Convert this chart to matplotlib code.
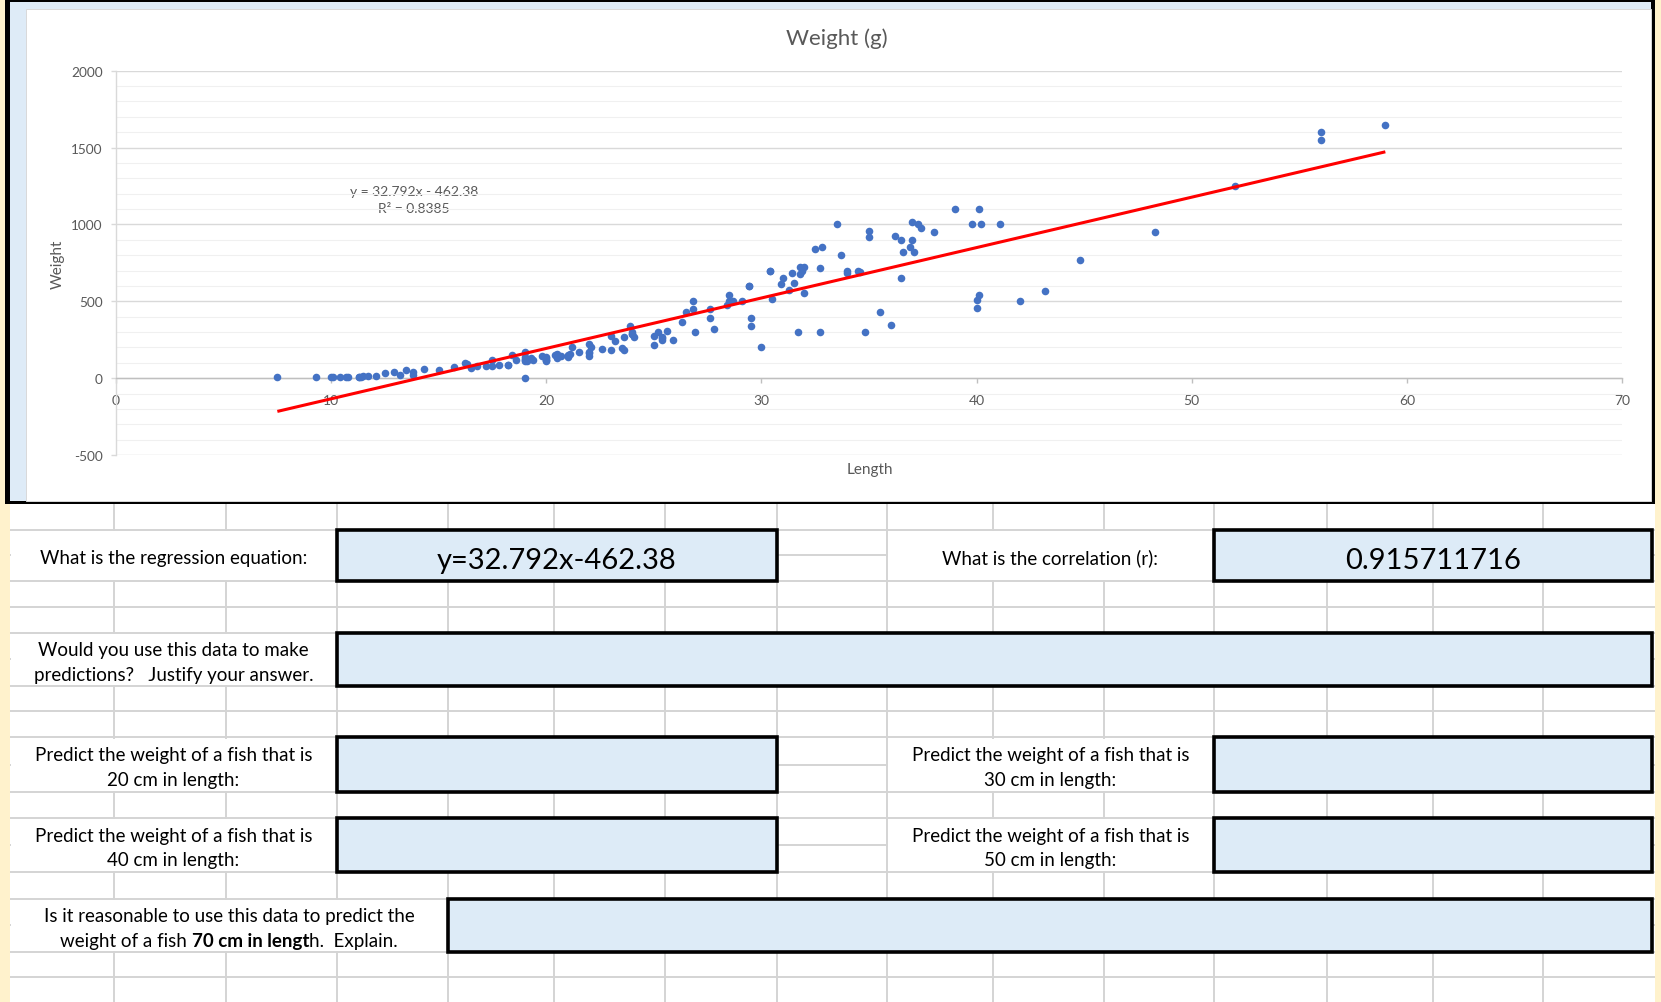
import numpy as np
import matplotlib
matplotlib.use("Agg")
import matplotlib.pyplot as plt
from matplotlib.patches import Rectangle
from matplotlib.ticker import MultipleLocator

plt.rcParams['font.family'] = ['Lato', 'DejaVu Sans']
plt.rcParams['axes.unicode_minus'] = False

# ---------------- data (fish length in cm, weight in g) ----------------
length = [
    # Bream
    23.2, 24, 23.9, 26.3, 26.5, 26.8, 26.8, 27.6, 27.6, 28.5, 28.4, 28.7, 29.1, 29.5, 29.4,
    29.4, 30.4, 30.4, 30.9, 31, 31.3, 31.4, 31.5, 31.8, 31.9, 31.8, 32, 32.7, 32.8, 33.5,
    35, 35, 36.2, 37.4, 38,
    # Roach
    12.9, 16.5, 17.5, 18.2, 18.6, 19, 19.1, 19.4, 20.4, 20.5, 20.5, 21, 21.1, 22, 22,
    22.1, 23.6, 24, 25, 29.5,
    # Whitefish
    23.6, 24.1, 25.6, 28.5, 33.7, 37.3,
    # Parkki
    13.5, 14.3, 16.3, 17.5, 18.4, 19, 19, 19.8, 21.2, 23, 24,
    # Perch
    7.5, 12.5, 13.8, 15, 15.7, 16.2, 16.8, 17.2, 17.8, 18.2, 19, 19, 19, 19.3, 20,
    20, 20, 20, 20, 20.5, 20.5, 20.7, 21, 21.5, 22, 22, 22.6, 23, 23.5, 25,
    25.2, 25.4, 25.4, 25.4, 25.9, 26.9, 27.8, 30.5, 32, 32.5, 34, 34, 34.5, 34.6, 36.5,
    36.5, 36.6, 36.9, 37, 37, 37.1, 39, 39.8, 40.1, 40.2, 41.1,
    # Pike
    30, 31.7, 32.7, 34.8, 35.5, 36, 40, 40, 40.1, 42, 43.2, 44.8, 48.3, 52, 56, 56, 59,
    # Smelt
    9.3, 10, 10.1, 10.4, 10.7, 10.8, 11.3, 11.3, 11.4, 11.5, 11.7, 12.1, 13.2, 13.8,
]
weight = [
    # Bream
    242, 290, 340, 363, 430, 450, 500, 390, 450, 500, 475, 500, 500, 340, 600,
    600, 700, 700, 610, 650, 575, 685, 620, 680, 700, 725, 720, 714, 850, 1000,
    920, 955, 925, 975, 950,
    # Roach
    40, 69, 78, 87, 120, 0, 110, 120, 150, 145, 160, 140, 160, 169, 161,
    200, 180, 290, 272, 390,
    # Whitefish
    270, 270, 306, 540, 800, 1000,
    # Parkki
    55, 60, 90, 120, 150, 140, 170, 145, 200, 273, 300,
    # Perch
    5.9, 32, 40, 51.5, 70, 100, 78, 80, 85, 85, 110, 115, 125, 130, 120,
    120, 130, 135, 110, 130, 150, 145, 150, 170, 225, 145, 188, 180, 197, 218,
    300, 260, 265, 250, 250, 300, 320, 514, 556, 840, 685, 700, 700, 690, 900,
    650, 820, 850, 900, 1015, 820, 1100, 1000, 1100, 1000, 1000,
    # Pike
    200, 300, 300, 300, 430, 345, 456, 510, 540, 500, 567, 770, 950, 1250, 1600, 1550, 1650,
    # Smelt
    6.7, 7.5, 7, 9.7, 9.8, 8.7, 10, 9.9, 9.8, 12.2, 13.4, 12.2, 19.7, 19.9,
]

x_ticks = [0, 10, 20, 30, 40, 50, 60, 70]
y_ticks = [-500, 0, 500, 1000, 1500, 2000]
chart_title = "Weight (g)"
x_label = "Length"
y_label = "Weight"
eq_label = "y = 32.792x - 462.38"
r2_label = "R\u00b2 = 0.8385"
answer_equation = "y=32.792x-462.38"
answer_correlation = "0.915711716"

q_equation = ["What is the regression equation:"]
q_correlation = ["What is the correlation (r):"]
q_use = ["Would you use this data to make", "predictions?   Justify your answer."]
q_20 = ["Predict the weight of a fish that is", "20 cm in length:"]
q_30 = ["Predict the weight of a fish that is", "30 cm in length:"]
q_40 = ["Predict the weight of a fish that is", "40 cm in length:"]
q_50 = ["Predict the weight of a fish that is", "50 cm in length:"]
q_70_line1 = "Is it reasonable to use this data to predict the"
q_70_line2 = [("weight of a fish", "normal"), ("70 cm in lengt", "bold"), ("h.  Explain.", "normal")]

# ---------------- layout (pixels) ----------------
W, H = 1661, 1003
PX0, PX1 = 116, 1622      # x = 0 .. 70
PY_TOP, PY_BOT = 71.7, 456  # y = 2000 .. -500

row_lines = [530.7, 556, 581.7, 607.7, 634, 660, 686.7, 711.7, 738.3, 765.7, 792.7,
             819, 846, 873.3, 900, 926, 952.7, 978.3]
col_lines = [114, 226, 337, 448, 554, 665, 777, 887, 993, 1104, 1214, 1327, 1433, 1543]

fig = plt.figure(figsize=(W / 100, H / 100), dpi=100)
fig.patch.set_facecolor('white')
bg = fig.add_axes([0, 0, 1, 1], zorder=0)
bg.set_xlim(0, W)
bg.set_ylim(H, 0)
bg.axis('off')


def rect(x0, y0, x1, y1, **kw):
    bg.add_patch(Rectangle((x0, y0), x1 - x0, y1 - y0, **kw))


GRID = '#d4d4d4'
BOXFILL = '#ddebf7'

# spreadsheet grid
bg.hlines(row_lines, 10, W - 6, colors=GRID, lw=1.4, zorder=1)
bg.vlines(col_lines, 505, H, colors=GRID, lw=1.4, zorder=1)

label_cells = [
    (10, 337, 530.7, 581.7, q_equation),
    (887, 1214, 530.7, 581.7, q_correlation),
    (10, 337, 634, 686.7, q_use),
    (10, 337, 738.3, 792.7, q_20),
    (887, 1214, 738.3, 792.7, q_30),
    (10, 337, 819, 873.3, q_40),
    (887, 1214, 819, 873.3, q_50),
    (10, 448, 900, 952.7, None),
]
boxes = [
    (337, 777, 530.7, 581.7, answer_equation),
    (1214, 1652, 530.7, 581.7, answer_correlation),
    (337, 1652, 634, 686.7, None),
    (337, 777, 738.3, 792.7, None),
    (1214, 1652, 738.3, 792.7, None),
    (337, 777, 819, 873.3, None),
    (1214, 1652, 819, 873.3, None),
    (448, 1652, 900, 952.7, None),
]

LABEL_SIZE = 13.5
for x0, x1, y0, y1, lines in label_cells:
    rect(x0 + 1.2, y0 + 1.2, x1 - 1.2, y1 - 1.2, facecolor='white', edgecolor='none', zorder=2)
    cx, cc = (x0 + x1) / 2, (y0 + y1) / 2
    if lines is None:
        continue
    if len(lines) == 1:
        bg.text(cx, cc + 7.5, lines[0], ha='center', va='baseline', fontsize=LABEL_SIZE,
                color='black', zorder=5)
    else:
        bg.text(cx, cc - 4.5, lines[0], ha='center', va='baseline', fontsize=LABEL_SIZE,
                color='black', zorder=5)
        bg.text(cx, cc + 20.3, lines[1], ha='center', va='baseline', fontsize=LABEL_SIZE,
                color='black', zorder=5)

for x0, x1, y0, y1, txt in boxes:
    rect(x0, y0, x1, y1, facecolor=BOXFILL, edgecolor='black', lw=2.6, zorder=3,
         joinstyle='miter')
    if txt:
        bg.text((x0 + x1) / 2, (y0 + y1) / 2 + 13, txt, ha='center', va='baseline',
                fontsize=21, color='black', zorder=5)

# last (mixed-weight) label
cx70, cc70 = (10 + 448) / 2, (900 + 952.7) / 2
bg.text(cx70, cc70 - 4.5, q_70_line1, ha='center', va='baseline', fontsize=LABEL_SIZE,
        color='black', zorder=5)
renderer = fig.canvas.get_renderer()
tmp = bg.text(0, 0, "a a", fontsize=LABEL_SIZE)
tmp2 = bg.text(0, 0, "aa", fontsize=LABEL_SIZE)
space_w = tmp.get_window_extent(renderer).width - tmp2.get_window_extent(renderer).width
tmp.remove()
tmp2.remove()
pieces = []
for s, wgt in q_70_line2:
    t = bg.text(0, cc70 + 20.3, s, ha='left', va='baseline', fontsize=LABEL_SIZE,
                fontweight=wgt, color='black', zorder=5)
    pieces.append(t)
widths = [t.get_window_extent(renderer).width for t in pieces]
gaps = [space_w, 0]
total = sum(widths) + sum(gaps)
xcur = cx70 - total / 2
for i, t in enumerate(pieces):
    t.set_x(xcur)
    xcur += widths[i] + (gaps[i] if i < len(gaps) else 0)

# yellow strips
rect(0, 0, 10, H, facecolor='#fff2cc', edgecolor='none', zorder=6)
rect(W - 6, 0, W, H, facecolor='#fff2cc', edgecolor='none', zorder=6)

# chart frame
rect(5, 0, W - 6, 505, facecolor='black', edgecolor='none', zorder=7)
rect(10, 3, W - 10, 501.5, facecolor='#deebf7', edgecolor='none', zorder=7)
rect(26, 10, W - 10, 501.5, facecolor='white', edgecolor='#d9d9d9', lw=0.7, zorder=7)

TXT = '#595959'
bg.text(837, 45, chart_title, ha='center', va='baseline', fontsize=16, color=TXT, zorder=8)
bg.text(414, 195.5, eq_label, ha='center', va='baseline', fontsize=10, color=TXT, zorder=8)
bg.text(414, 213, r2_label, ha='center', va='baseline', fontsize=10, color=TXT, zorder=8)
bg.text(870, 470, x_label, ha='center', va='center', fontsize=11, color=TXT, zorder=8)
bg.text(58, 264, y_label, ha='center', va='center', rotation=90, fontsize=11, color=TXT,
        zorder=8)

# ---------------- chart ----------------
ax = fig.add_axes([PX0 / W, 1 - PY_BOT / H, (PX1 - PX0) / W, (PY_BOT - PY_TOP) / H], zorder=1)
ax.set_facecolor('none')
ax.set_xlim(0, 70)
ax.set_ylim(-500, 2000)
ax.spines['top'].set_visible(False)
ax.spines['right'].set_visible(False)
ax.spines['bottom'].set_position(('data', 0))
ax.spines['bottom'].set_color('#bfbfbf')
ax.spines['bottom'].set_linewidth(1.0)
ax.spines['left'].set_color('#d9d9d9')
ax.spines['left'].set_linewidth(1.0)
ax.set_xticks(x_ticks)
ax.set_yticks(y_ticks)
ax.yaxis.set_minor_locator(MultipleLocator(100))
ax.grid(axis='y', which='major', color='#d9d9d9', lw=1.0)
ax.grid(axis='y', which='minor', color='#f0f0f0', lw=0.8)
ax.set_axisbelow(True)
ax.tick_params(axis='y', which='minor', length=0)
ax.tick_params(axis='x', which='major', direction='out', length=3.6, width=1.0,
               color='#bfbfbf', pad=8, labelcolor=TXT, labelsize=10)
ax.tick_params(axis='y', which='major', direction='out', length=3.3, width=1.0,
               color='#d9d9d9', pad=6.4, labelcolor=TXT, labelsize=9.8)

lx = np.array(length, dtype=float)
wy = np.array(weight, dtype=float)
ax.scatter(lx, wy, s=30, color='#4472c4', linewidths=0, zorder=3, clip_on=False)
slope, intercept = np.polyfit(lx, wy, 1)
xs = np.array([lx.min(), lx.max()])
ax.plot(xs, slope * xs + intercept, color='#ff0000', lw=2.2, zorder=4,
        solid_capstyle='butt')

fig.savefig('out.png', dpi=100)
